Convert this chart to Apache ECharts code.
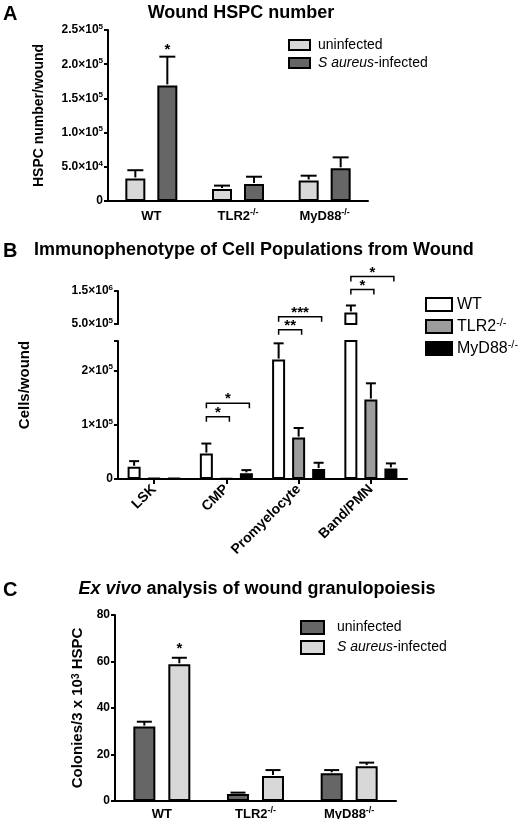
<!DOCTYPE html>
<html><head><meta charset="utf-8">
<script src="https://cdn.jsdelivr.net/npm/echarts@6/dist/echarts.min.js"></script>
<style>html,body{margin:0;padding:0;background:#fff}#c{width:520px;height:819px}</style>
</head><body><div id="c"></div>
<script>
// ---------- Panel A : Wound HSPC number ----------
const groupsA = ['WT', 'TLR2-/-', 'MyD88-/-'];
const aUninfMean = [33000, 17500, 30000];
const aUninfSem  = [12000, 5000, 7000];
const aInfMean   = [169000, 24800, 47800];
const aInfSem    = [42000, 10700, 16000];
const aTicks = [0, 50000, 100000, 150000, 200000, 250000];
const aTickLabels = ['0', '5.0×10^4', '1.0×10^5', '1.5×10^5', '2.0×10^5', '2.5×10^5'];

// ---------- Panel B : Immunophenotype ----------
const cellTypes = ['LSK', 'CMP', 'Promyelocyte', 'Band/PMN'];
const bWTMean    = [22600, 47000, 220700, 851000];
const bWTSem     = [10400, 18500, 30000, 210000];
const bTLR2Mean  = [1500, 1000, 76500, 146800];
const bTLR2Sem   = [0, 0, 17700, 30000];
const bMyD88Mean = [1500, 10400, 18300, 19600];
const bMyD88Sem  = [0, 6000, 11700, 9200];
const bLowerMax = 255000;
const bLowerTicks = [0, 100000, 200000];
const bLowerTickLabels = ['0', '1×10^5', '2×10^5'];
const bUpperMin = 500000, bUpperMax = 1500000;
const bUpperTicks = [500000, 1500000];
const bUpperTickLabels = ['5.0×10^5', '1.5×10^6'];
// significance brackets (category, from bar, to bar, height in lower-axis units, text)
const sigCat   = [1, 1, 2, 2, 3, 3];
const sigFrom  = [0, 0, 0, 0, 0, 0];
const sigTo    = [1, 2, 1, 2, 1, 2];
const sigLevel = [115000, 140000, 276000, 300000, 350000, 374000];
const sigText  = ['*', '*', '**', '***', '*', '*'];

// ---------- Panel C : Ex vivo granulopoiesis ----------
const groupsC = ['WT', 'TLR2-/-', 'MyD88-/-'];
const cUninfMean = [32, 3.0, 11.9];
const cUninfSem  = [2.1, 0.6, 1.4];
const cInfMean   = [58.8, 10.8, 15.0];
const cInfSem    = [2.8, 2.5, 1.5];
const cTicks = [0, 20, 40, 60, 80];

// ---------- styling ----------
const FONT = '"Liberation Sans", Arial, sans-serif';
const LIGHT = '#d8d8d8', DARK = '#666666', MID = '#9c9c9c';
const toRich = s => s.replace(/\^(\S+)/g, '{s|$1}').replace(/-\/-/g, '{s|-/-}');
const supRich = (size, bold) => ({ s: { fontSize: Math.round(size * 0.66), fontWeight: bold ? 'bold' : 'normal', fontFamily: FONT, color: '#000', verticalAlign: 'top', lineHeight: Math.round(size * 0.7) } });

function tickFmt(ticks, labels) {
  return v => { const i = ticks.findIndex(t => Math.abs(t - v) < 1e-6); return i >= 0 ? toRich(labels[i]) : ''; };
}
function valueAxis(grid, min, max, ticks, labels, tickVals) {
  return {
    type: 'value', gridIndex: grid, min, max,
    axisLine: { show: true, lineStyle: { color: '#000', width: 2 } },
    axisTick: { show: true, length: 4, lineStyle: { color: '#000', width: 2 }, customValues: tickVals || ticks },
    axisLabel: { margin: 5, fontSize: 12, fontWeight: 'bold', color: '#000', fontFamily: FONT, lineHeight: 15,
      customValues: ticks, formatter: tickFmt(ticks, labels), rich: supRich(12, true) },
    splitLine: { show: false }
  };
}
function catAxis(grid, cats, opts) {
  return Object.assign({
    type: 'category', gridIndex: grid, data: cats,
    axisLine: { show: true, lineStyle: { color: '#000', width: 2 } },
    axisTick: { show: false },
    axisLabel: { interval: 0, fontSize: 13, fontWeight: 'bold', color: '#000', fontFamily: FONT, margin: 7, lineHeight: 16,
      formatter: v => toRich(v), rich: supRich(13, true) }
  }, opts || {});
}
function barSeries(name, xi, yi, data, color, w, gap) {
  return { type: 'bar', name, xAxisIndex: xi, yAxisIndex: yi, data, barWidth: w, barGap: gap,
    itemStyle: { color, borderColor: '#000', borderWidth: 2 }, clip: true, z: 2 };
}
function errorSeries(xi, yi, means, sems, barIdx, nBars, step, capW, keep) {
  const data = [];
  means.forEach((m, i) => { if (sems[i] > 0 && keep(m)) data.push([i, m, m + sems[i]]); });
  return { type: 'custom', xAxisIndex: xi, yAxisIndex: yi, silent: true, z: 5, data, encode: { x: 0, y: 1 },
    renderItem: (p, api) => {
      const a = api.coord([api.value(0), api.value(1)]);
      const b = api.coord([api.value(0), api.value(2)]);
      const x = a[0] + (barIdx - (nBars - 1) / 2) * step;
      return { type: 'group', children: [
        { type: 'line', shape: { x1: x, y1: a[1] - 1, x2: x, y2: b[1] }, style: { stroke: '#000', lineWidth: 2 } },
        { type: 'line', shape: { x1: x - capW / 2, y1: b[1], x2: x + capW / 2, y2: b[1] }, style: { stroke: '#000', lineWidth: 2 } }
      ] };
    } };
}
function starSeries(xi, yi, cat, barIdx, nBars, step, value, text, lift) {
  return { type: 'custom', xAxisIndex: xi, yAxisIndex: yi, silent: true, z: 6, data: [[cat, value]], encode: { x: 0, y: 1 },
    renderItem: (p, api) => {
      const a = api.coord([api.value(0), api.value(1)]);
      const x = a[0] + (barIdx - (nBars - 1) / 2) * step;
      return { type: 'text', style: { text, x, y: a[1] - lift, align: 'center', verticalAlign: 'middle',
        font: 'bold 15px ' + FONT, fill: '#000' } };
    } };
}

const stepA = 32, stepB = 20, stepC = 35;
const bracketData = sigCat.map((c, i) => [c, sigLevel[i], sigFrom[i], sigTo[i], i]);
const T = (extra) => Object.assign({ fontSize: 18, fontWeight: 'bold', color: '#000', fontFamily: FONT }, extra || {});

const option = {
  animation: false,
  backgroundColor: '#fff',
  textStyle: { fontFamily: FONT },
  title: [
    { text: 'A', left: 3, top: 4, padding: 0, textStyle: T({ fontSize: 20 }) },
    { text: 'Wound HSPC number', left: 241, top: 4, padding: 0, textAlign: 'center', textStyle: T() },
    { text: 'B', left: 3, top: 241, padding: 0, textStyle: T({ fontSize: 20 }) },
    { text: 'Immunophenotype of Cell Populations from Wound', left: 34, top: 241, padding: 0, textStyle: T() },
    { text: 'C', left: 3, top: 580, padding: 0, textStyle: T({ fontSize: 20 }) },
    { text: '{i|Ex vivo} analysis of wound granulopoiesis', left: 257, top: 580, padding: 0, textAlign: 'center',
      textStyle: T({ rich: { i: T({ fontStyle: 'italic' }) } }) }
  ],
  legend: [
    { orient: 'vertical', left: 288, top: 38, padding: 0, itemWidth: 21, itemHeight: 10, itemGap: 4, icon: 'rect',
      data: ['uninfected', 'S aureus-infected'],
      formatter: n => n.replace('S aureus', '{i|S aureus}'),
      textStyle: { fontSize: 14, color: '#000', fontFamily: FONT, padding: [0, 0, 0, 3],
        rich: { i: { fontSize: 14, fontStyle: 'italic', color: '#000', fontFamily: FONT } } } },
    { orient: 'vertical', left: 425, top: 295, padding: 0, itemWidth: 26, itemHeight: 13, itemGap: 3, icon: 'rect',
      data: ['WT', 'TLR2-/-', 'MyD88-/-'],
      formatter: n => toRich(n),
      textStyle: { fontSize: 16, color: '#000', fontFamily: FONT, padding: 0, lineHeight: 19, rich: supRich(16, false) } },
    { orient: 'vertical', left: 300, top: 620, padding: 0, itemWidth: 23, itemHeight: 13, itemGap: 5, icon: 'rect',
      data: ['C:uninfected', 'C:S aureus-infected'],
      formatter: n => n.replace('C:', '').replace('S aureus', '{i|S aureus}'),
      textStyle: { fontSize: 14, color: '#000', fontFamily: FONT, padding: [0, 0, 0, 8],
        rich: { i: { fontSize: 14, fontStyle: 'italic', color: '#000', fontFamily: FONT } } } }
  ],
  grid: [
    { left: 108, top: 30, width: 260, height: 171, containLabel: false, outerBoundsMode: 'none' },
    { left: 118, top: 291, width: 289, height: 33, containLabel: false, outerBoundsMode: 'none' },
    { left: 118, top: 341, width: 289, height: 138, containLabel: false, outerBoundsMode: 'none' },
    { left: 115, top: 615, width: 281, height: 186, containLabel: false, outerBoundsMode: 'none' }
  ],
  xAxis: [
    catAxis(0, groupsA, {}),
    catAxis(1, cellTypes, { show: false }),
    catAxis(2, cellTypes, {
      axisTick: { show: true, alignWithLabel: true, length: 5, lineStyle: { color: '#000', width: 2 } },
      axisLabel: { interval: 0, rotate: 45, fontSize: 14, fontWeight: 'bold', color: '#000', fontFamily: FONT, margin: 8 } }),
    catAxis(3, groupsC, { axisLabel: { interval: 0, fontSize: 13, fontWeight: 'bold', color: '#000', fontFamily: FONT, margin: 5, lineHeight: 16,
      formatter: v => toRich(v), rich: supRich(13, true) } })
  ],
  yAxis: [
    Object.assign(valueAxis(0, 0, 250000, aTicks, aTickLabels), {
      name: 'HSPC number/wound', nameLocation: 'middle', nameRotate: 90, nameGap: 62,
      nameTextStyle: { fontSize: 14, fontWeight: 'bold', color: '#000', fontFamily: FONT } }),
    valueAxis(1, bUpperMin, bUpperMax, bUpperTicks, bUpperTickLabels),
    valueAxis(2, 0, bLowerMax, bLowerTicks, bLowerTickLabels, bLowerTicks.concat([bLowerMax])),
    Object.assign(valueAxis(3, 0, 80, cTicks, cTicks.map(String)), {
      name: 'Colonies/3 x 10^3 HSPC'.replace(/\^(\S+)/, '{s|$1}'), nameLocation: 'middle', nameRotate: 90, nameGap: 26,
      nameTextStyle: { fontSize: 15, fontWeight: 'bold', color: '#000', fontFamily: FONT, rich: supRich(15, true) } })
  ],
  graphic: [
    { type: 'text', x: 25, y: 385, rotation: Math.PI / 2,
      style: { text: 'Cells/wound', align: 'center', verticalAlign: 'middle', font: 'bold 15px ' + FONT, fill: '#000' } }
  ],
  series: [
    // Panel A
    barSeries('uninfected', 0, 0, aUninfMean, LIGHT, 20, '60%'),
    barSeries('S aureus-infected', 0, 0, aInfMean, DARK, 20, '60%'),
    errorSeries(0, 0, aUninfMean, aUninfSem, 0, 2, stepA, 16, () => true),
    errorSeries(0, 0, aInfMean, aInfSem, 1, 2, stepA, 16, () => true),
    starSeries(0, 0, 0, 1, 2, stepA, aInfMean[0] + aInfSem[0], '*', 7),
    // Panel B upper segment
    barSeries('WT', 1, 1, bWTMean.map(v => v > bUpperMin ? v : '-'), '#fff', 13, '54%'),
    barSeries('TLR2-/-', 1, 1, bTLR2Mean.map(v => v > bUpperMin ? v : '-'), MID, 13, '54%'),
    barSeries('MyD88-/-', 1, 1, bMyD88Mean.map(v => v > bUpperMin ? v : '-'), '#000', 13, '54%'),
    errorSeries(1, 1, bWTMean, bWTSem, 0, 3, stepB, 10, v => v > bUpperMin),
    // Panel B lower segment
    barSeries('WT', 2, 2, bWTMean, '#fff', 13, '54%'),
    barSeries('TLR2-/-', 2, 2, bTLR2Mean, MID, 13, '54%'),
    barSeries('MyD88-/-', 2, 2, bMyD88Mean, '#000', 13, '54%'),
    errorSeries(2, 2, bWTMean, bWTSem, 0, 3, stepB, 10, v => v <= bLowerMax),
    errorSeries(2, 2, bTLR2Mean, bTLR2Sem, 1, 3, stepB, 10, v => v <= bLowerMax),
    errorSeries(2, 2, bMyD88Mean, bMyD88Sem, 2, 3, stepB, 10, v => v <= bLowerMax),
    { type: 'custom', xAxisIndex: 2, yAxisIndex: 2, silent: true, z: 6, clip: false, data: bracketData, encode: { x: 0, y: 1 },
      renderItem: (p, api) => {
        const a = api.coord([api.value(0), api.value(1)]);
        const x1 = a[0] + (api.value(2) - 1) * stepB;
        const x2 = a[0] + (api.value(3) - 1) * stepB + 3;
        const y = a[1];
        return { type: 'group', children: [
          { type: 'polyline', shape: { points: [[x1, y + 5], [x1, y], [x2, y], [x2, y + 5]] }, style: { stroke: '#000', lineWidth: 1.5, fill: null } },
          { type: 'text', style: { text: sigText[api.value(4)], x: (x1 + x2) / 2, y: y - 4, align: 'center', verticalAlign: 'middle', font: 'bold 15px ' + FONT, fill: '#000' } }
        ] };
      } },
    // Panel C
    barSeries('C:uninfected', 3, 3, cUninfMean, DARK, 22, '59%'),
    barSeries('C:S aureus-infected', 3, 3, cInfMean, LIGHT, 22, '59%'),
    errorSeries(3, 3, cUninfMean, cUninfSem, 0, 2, stepC, 15, () => true),
    errorSeries(3, 3, cInfMean, cInfSem, 1, 2, stepC, 15, () => true),
    starSeries(3, 3, 0, 1, 2, stepC, cInfMean[0] + cInfSem[0], '*', 9)
  ]
};
const chart = echarts.init(document.getElementById('c'), null, { renderer: 'canvas' });
chart.setOption(option);
</script>
</body></html>
